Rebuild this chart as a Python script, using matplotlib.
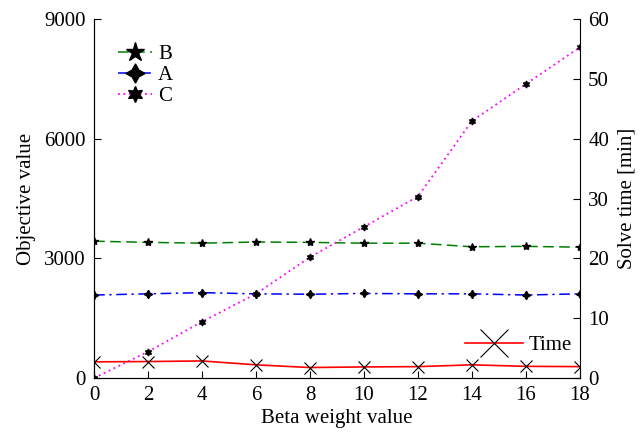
import matplotlib
matplotlib.use("Agg")
from matplotlib import pyplot as plt

# beta weight values
beta = [0, 2, 4, 6, 8, 10, 12, 14, 16, 18]

# objective values (left axis)
obj_b = [3430, 3400, 3380, 3410, 3400, 3380, 3380, 3290, 3300, 3280]
obj_a = [2080, 2110, 2140, 2110, 2100, 2120, 2110, 2110, 2080, 2110]
obj_c = [0, 660, 1410, 2110, 3030, 3790, 4550, 6440, 7370, 8290]

# solve time in minutes (right axis)
solve_time = [2.7, 2.75, 2.85, 2.2, 1.75, 1.85, 1.9, 2.2, 1.95, 1.9]

left_ticks = [0, 3000, 6000, 9000]
right_ticks = [0, 10, 20, 30, 40, 50, 60]
x_ticks = [0, 2, 4, 6, 8, 10, 12, 14, 16, 18]


def main() -> None:
    plt.rcParams["font.family"] = ["Liberation Serif", "DejaVu Serif"]
    plt.rcParams["font.size"] = 15

    fig = plt.figure(figsize=(6.4, 4.32), dpi=100)
    ax = fig.add_axes([0.147, 0.125, 0.759, 0.831])
    ax2 = ax.twinx()

    star4 = (4, 1, 0)
    star6 = (6, 1, 0)

    ax.plot(beta, obj_b, color="green", linestyle=(0, (7, 3.5)), lw=1.1,
            marker="*", ms=6, mfc="black", mec="black", label="B")
    ax.plot(beta, obj_a, color="blue", linestyle=(0, (7, 3, 1.5, 3)), lw=1.1,
            marker=star4, ms=6, mfc="black", mec="black", label="A")
    ax.plot(beta, obj_c, color="magenta", linestyle=(0, (1, 2)), lw=1.3,
            marker=star6, ms=5, mfc="black", mec="black", label="C")

    ax2.plot(beta, solve_time, color="red", lw=1.2, marker="x", ms=8,
             mec="black", mew=0.8, label="Time")

    ax.set_xlim(0, 18)
    ax.set_ylim(0, 9000)
    ax2.set_ylim(0, 60)
    ax.set_xticks(x_ticks)
    ax.set_yticks(left_ticks)
    ax2.set_yticks(right_ticks)

    for a in (ax, ax2):
        a.spines["top"].set_visible(False)
        a.tick_params(direction="in", length=5, width=0.8, pad=6)
    ax.spines["right"].set_visible(False)

    ax.set_xlabel("Beta weight value", labelpad=3)
    ax.set_ylabel("Objective value", labelpad=6)
    ax2.set_ylabel("Solve time [min]", labelpad=6)

    ax.legend(loc="upper left", bbox_to_anchor=(0.02, 0.97), frameon=False,
              markerscale=2.3, handlelength=1.6, handletextpad=0.3,
              labelspacing=0.08, borderaxespad=0.3, fontsize=15)
    ax2.legend(loc="lower right", bbox_to_anchor=(1.0, 0.04), frameon=False,
               markerscale=2.6, handlelength=2.8, handletextpad=0.25,
               borderaxespad=0.0, fontsize=15)

    fig.savefig("out.png", dpi=100)


if __name__ == "__main__":
    main()
